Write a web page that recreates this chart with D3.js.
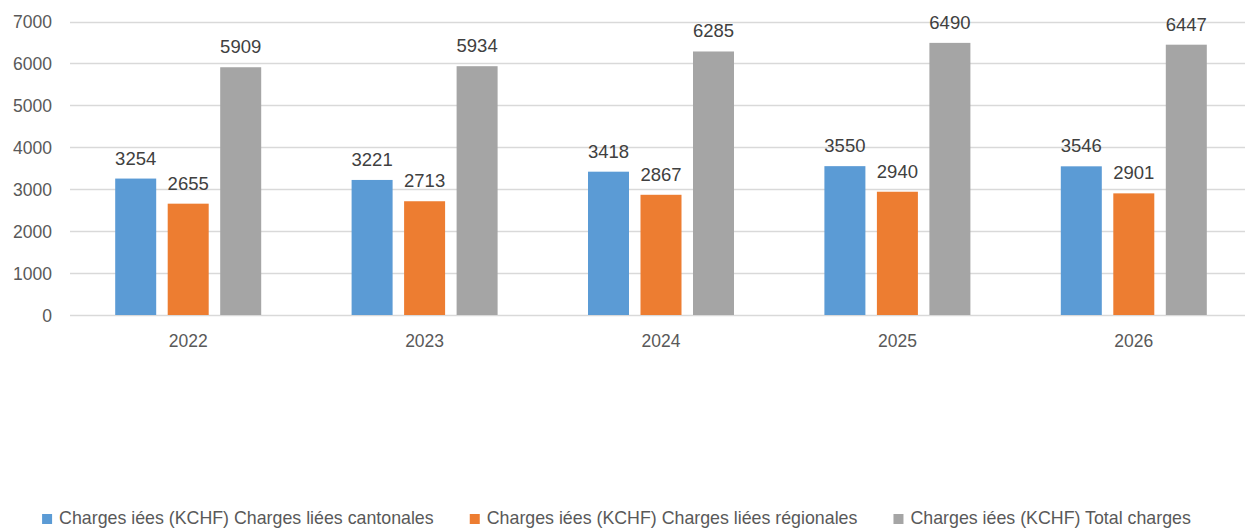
<!DOCTYPE html>
<html><head><meta charset="utf-8">
<script src="https://cdn.jsdelivr.net/npm/d3@7"></script>
<style>
body{margin:0;background:#fff;}
text{font-family:"Liberation Sans",Arial,sans-serif;}
</style></head>
<body><svg id="c" width="1245" height="531"></svg>
<script>
const categories = ["2022","2023","2024","2025","2026"];
const seriesNames = [
  "Charges iées (KCHF) Charges liées cantonales",
  "Charges iées (KCHF) Charges liées régionales",
  "Charges iées (KCHF) Total charges"
];
const cantonales = [3254,3221,3418,3550,3546];
const regionales = [2655,2713,2867,2940,2901];
const totals = [5909,5934,6285,6490,6447];
const yTicks = [0,1000,2000,3000,4000,5000,6000,7000];
const colors = ["#5B9BD5","#ED7D31","#A5A5A5"];

const series = [cantonales, regionales, totals];
const svg = d3.select("#c");
const x = d3.scaleBand().domain(categories).range([70, 1252]).paddingInner(0).paddingOuter(0);
const y = d3.scaleLinear().domain([0,7000]).range([315, 21.5]);
const barW = 41, gap = 11.5;

// gridlines
svg.append("g").selectAll("line").data(yTicks).join("line")
  .attr("x1",70).attr("x2",1245)
  .attr("y1",d=>Math.round(y(d))+0.5).attr("y2",d=>Math.round(y(d))+0.5)
  .attr("stroke","#D9D9D9").attr("stroke-width",1.3);

// y axis
const yAxis = svg.append("g").attr("transform","translate(52,0)")
  .call(d3.axisLeft(y).tickValues(yTicks).tickSize(0).tickPadding(0).tickFormat(d3.format("d")));
yAxis.select(".domain").remove();
yAxis.selectAll("text").attr("fill","#595959").style("font-size","17.5px").attr("dy","0.36em");

// x axis labels
const xAxis = svg.append("g").attr("transform","translate(0,315)")
  .call(d3.axisBottom(x).tickSize(0).tickPadding(20));
xAxis.select(".domain").remove();
xAxis.selectAll("text").attr("fill","#595959").style("font-size","17.5px");

// bars
series.forEach((vals,si)=>{
  const off = (si-1)*(barW+gap) - barW/2;
  const g = svg.append("g");
  g.selectAll("rect").data(vals).join("rect")
    .attr("x",(d,i)=>x(categories[i])+x.bandwidth()/2+off)
    .attr("width",barW)
    .attr("y",d=>y(d)).attr("height",d=>y(0)-y(d))
    .attr("fill",colors[si]);
  g.selectAll("text").data(vals).join("text")
    .attr("x",(d,i)=>x(categories[i])+x.bandwidth()/2+off+barW/2)
    .attr("y",d=>y(d)-14)
    .attr("text-anchor","middle")
    .attr("fill","#404040").style("font-size","18.5px")
    .text(d=>d);
});

// legend
const lg = svg.append("g");
const items = lg.selectAll("g").data(seriesNames).join("g");
items.append("rect").attr("width",10).attr("height",10).attr("y",-10).attr("fill",(d,i)=>colors[i]);
items.append("text").attr("x",17).attr("y",0).attr("fill","#595959").style("font-size","17.8px").text(d=>d);
const widths=[];
items.each(function(){ widths.push(this.getBBox().width); });
const itemGap = 36;
const total = d3.sum(widths) + itemGap*(widths.length-1);
let start = 616.5 - total/2;
items.attr("transform",(d,i)=>{ const t = `translate(${start},524)`; start += widths[i]+itemGap; return t; });
</script></body></html>
